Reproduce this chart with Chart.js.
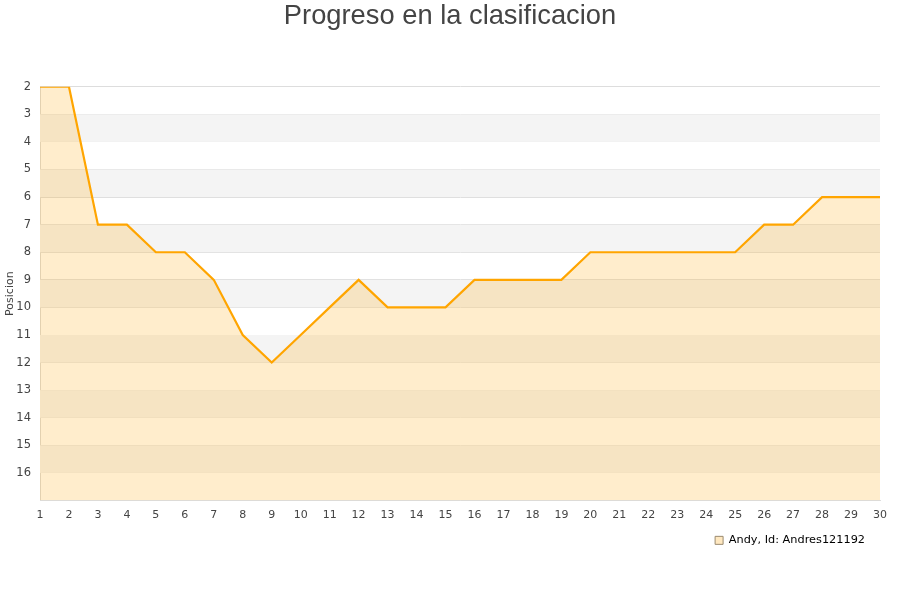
<!DOCTYPE html>
<html>
<head>
<meta charset="utf-8">
<script src="https://cdn.jsdelivr.net/npm/chart.js@4/dist/chart.umd.min.js"></script>
<style>
  html, body { margin: 0; padding: 0; background: #fff; }
  #wrap { width: 900px; height: 600px; }
</style>
</head>
<body>
<div id="wrap"><canvas id="chart"></canvas></div>
<script>
let jornadas = [1, 2, 3, 4, 5, 6, 7, 8, 9, 10, 11, 12, 13, 14, 15, 16, 17, 18, 19, 20, 21, 22, 23, 24, 25, 26, 27, 28, 29, 30],
    posiciones = [2, 2, 7, 7, 8, 8, 9, 11, 12, 11, 10, 9, 10, 10, 10, 9, 9, 9, 9, 8, 8, 8, 8, 8, 8, 7, 7, 6, 6, 6],
    yMin = 2,
    yMax = 17;

// alternate white / light grey bands behind the line
let bands = {
    id: 'bands',
    afterLayout(chart) {
        // title centred on the whole canvas, legend pulled a bit left
        chart.titleBlock.right += 20;
        chart.legend.left -= 10;
        chart.legend.right -= 10;
    },
    beforeDatasetsDraw(chart) {
        let c = chart.ctx, area = chart.chartArea, y = chart.scales.y;
        c.save();
        for (let v = yMin; v < yMax; v++) {
            if ((v - yMin) % 2 === 1) {
                let top = y.getPixelForValue(v), bot = y.getPixelForValue(v + 1);
                c.fillStyle = '#f4f4f4';
                c.fillRect(area.left, top, area.right - area.left, bot - top);
            }
        }
        c.restore();
    }
};

let ctx = document.getElementById('chart');

let myChart = new Chart(ctx, {
    type: 'line',
    data: {
        labels: jornadas,
        datasets: [{
            label: 'Andy, Id: Andres121192',
            data: posiciones,
            borderColor: '#ffa500',
            borderWidth: 2.2,
            backgroundColor: 'rgba(255,165,0,0.2)',
            fill: 'start',
            pointRadius: 0,
            tension: 0
        }]
    },
    options: {
        responsive: true,
        maintainAspectRatio: false,
        animation: false,
        layout: { padding: { left: 0, right: 20, top: 0, bottom: 44 } },
        scales: {
            x: {
                offset: false,
                grid: { display: false, drawTicks: false },
                border: { color: '#dddddd' },
                ticks: { padding: 8, color: '#444', font: { family: 'DejaVu Sans', size: 11 }, maxRotation: 0, autoSkip: false }
            },
            y: {
                reverse: true,
                min: yMin,
                max: yMax,
                afterFit: s => { s.width = 40; },
                grid: { color: '#dddddd', drawTicks: false },
                border: { color: '#dddddd' },
                title: { display: true, text: 'Posicion', color: '#444', font: { family: 'DejaVu Sans', size: 11 }, padding: { top: 4, bottom: 0 } },
                ticks: {
                    stepSize: 1,
                    padding: 9,
                    color: '#444',
                    font: { family: 'DejaVu Sans', size: 11.5 },
                    callback: v => v === yMax ? '' : v
                }
            }
        },
        plugins: {
            title: {
                display: true,
                text: 'Progreso en la clasificacion',
                color: '#444',
                font: { family: 'Liberation Sans', size: 27.3, weight: 'normal' },
                padding: { top: 0, bottom: 54 }
            },
            legend: {
                position: 'bottom',
                align: 'end',
                labels: {
                    color: '#000',
                    font: { family: 'DejaVu Sans', size: 11.3 },
                    boxWidth: 8,
                    boxHeight: 8,
                    padding: 5,
                    generateLabels: chart => [{
                        text: chart.data.datasets[0].label,
                        fillStyle: '#ffe8c0',
                        strokeStyle: '#9a8a70',
                        lineWidth: 1,
                        datasetIndex: 0
                    }]
                }
            },
            tooltip: { enabled: false }
        }
    },
    plugins: [bands]
});
</script>
</body>
</html>
